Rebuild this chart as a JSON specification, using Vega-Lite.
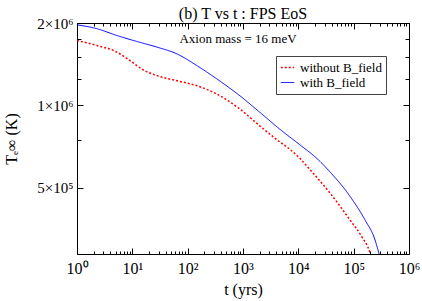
{
  "$schema": "https://vega.github.io/schema/vega-lite/v6.json",
  "width": 332,
  "height": 231,
  "autosize": "none",
  "padding": {"left": 77, "top": 23, "right": 13, "bottom": 47},
  "background": "white",
  "config": {
    "font": "Liberation Serif",
    "view": {"stroke": null},
    "axis": {"grid": false, "domainColor": "black", "tickColor": "black", "labelColor": "black", "titleColor": "black", "labelFont": "Liberation Serif", "titleFont": "Liberation Serif", "titleFontWeight": "normal", "labelFlush": false, "labelOverlap": false},
    "legend": {"orient": "none", "legendX": 199, "legendY": 33, "fillColor": "white", "strokeColor": "#444", "padding": 4, "symbolType": "stroke", "symbolSize": 180, "symbolStrokeWidth": 1.3, "labelFont": "Liberation Serif", "labelFontSize": 13, "labelColor": "black", "rowPadding": 0, "labelOffset": 5}
  },
  "title": {"text": "(b) T vs t : FPS EoS", "font": "Liberation Serif", "fontSize": 16, "fontWeight": "normal", "color": "black", "anchor": "middle", "offset": -6},
  "data": {"values": [
    {"t": 1, "T": 1970000, "series": "with B_field"},
    {"t": 2.3, "T": 1906000, "series": "with B_field"},
    {"t": 5.28, "T": 1800000, "series": "with B_field"},
    {"t": 12.1, "T": 1712000, "series": "with B_field"},
    {"t": 27.9, "T": 1633000, "series": "with B_field"},
    {"t": 64.3, "T": 1542000, "series": "with B_field"},
    {"t": 147.5, "T": 1397000, "series": "with B_field"},
    {"t": 339, "T": 1249000, "series": "with B_field"},
    {"t": 883, "T": 1084000, "series": "with B_field"},
    {"t": 2029, "T": 943000, "series": "with B_field"},
    {"t": 4667, "T": 818000, "series": "with B_field"},
    {"t": 10720, "T": 718000, "series": "with B_field"},
    {"t": 22680, "T": 635000, "series": "with B_field"},
    {"t": 37370, "T": 572000, "series": "with B_field"},
    {"t": 85900, "T": 466000, "series": "with B_field"},
    {"t": 160300, "T": 382000, "series": "with B_field"},
    {"t": 243000, "T": 323000, "series": "with B_field"},
    {"t": 291000, "T": 284000, "series": "with B_field"},
    {"t": 320000, "T": 260000, "series": "with B_field"},
    {"t": 1, "T": 1726000, "series": "without B_field"},
    {"t": 2.3, "T": 1655000, "series": "without B_field"},
    {"t": 5.28, "T": 1565000, "series": "without B_field"},
    {"t": 9.08, "T": 1458000, "series": "without B_field"},
    {"t": 16.05, "T": 1345000, "series": "without B_field"},
    {"t": 27.9, "T": 1285000, "series": "without B_field"},
    {"t": 64.3, "T": 1231000, "series": "without B_field"},
    {"t": 147.5, "T": 1180000, "series": "without B_field"},
    {"t": 339, "T": 1100000, "series": "without B_field"},
    {"t": 883, "T": 969000, "series": "without B_field"},
    {"t": 2029, "T": 841000, "series": "without B_field"},
    {"t": 4667, "T": 735000, "series": "without B_field"},
    {"t": 7080, "T": 691000, "series": "without B_field"},
    {"t": 10720, "T": 641000, "series": "without B_field"},
    {"t": 16260, "T": 583000, "series": "without B_field"},
    {"t": 37370, "T": 479000, "series": "without B_field"},
    {"t": 85900, "T": 382000, "series": "without B_field"},
    {"t": 139800, "T": 332000, "series": "without B_field"},
    {"t": 197500, "T": 289000, "series": "without B_field"},
    {"t": 225000, "T": 260000, "series": "without B_field"}
  ]},
  "layer": [
    {
      "mark": {"type": "line", "clip": true, "interpolate": "monotone"},
      "encoding": {
        "x": {"field": "t", "type": "quantitative", "scale": {"type": "log", "domain": [1, 1000000], "nice": false},
          "axis": {"orient": "bottom", "values": [1,2,3,4,5,6,7,8,9,10,20,30,40,50,60,70,80,90,100,200,300,400,500,600,700,800,900,1000,2000,3000,4000,5000,6000,7000,8000,9000,10000,20000,30000,40000,50000,60000,70000,80000,90000,100000,200000,300000,400000,500000,600000,700000,800000,900000,1000000],
            "tickSize": {"condition": {"test": "abs(log(datum.value)/LN10 - round(log(datum.value)/LN10)) < 0.0001", "value": -6}, "value": -3},
            "labelExpr": "abs(log(datum.value)/LN10 - round(log(datum.value)/LN10)) < 0.0001 ? '10' + ['⁰','¹','²','³','⁴','⁵','⁶'][round(log(datum.value)/LN10)] : ''",
            "labelFontSize": 16, "labelPadding": 12, "title": "t (yrs)", "titleFontSize": 16, "titlePadding": 2}},
        "y": {"field": "T", "type": "quantitative", "scale": {"type": "log", "domain": [287000, 2000000], "nice": false, "zero": false},
          "axis": {"orient": "left", "values": [500000, 750000, 1000000, 1250000, 1500000, 1750000, 2000000],
            "tickSize": {"condition": {"test": "datum.value==500000 || datum.value==1000000 || datum.value==2000000", "value": -6}, "value": -4},
            "labelExpr": "datum.value==2000000 ? '2×10⁶' : datum.value==1000000 ? '1×10⁶' : datum.value==500000 ? '5×10⁵' : ''",
            "labelFontSize": 15, "labelPadding": 10, "title": "Tₑ∞ (K)", "titleFontSize": 16, "titlePadding": 17}},
        "color": {"field": "series", "type": "nominal", "scale": {"domain": ["without B_field", "with B_field"], "range": ["#ff0000", "#0000ff"]}, "legend": {"title": null}},
        "strokeDash": {"field": "series", "type": "nominal", "scale": {"domain": ["without B_field", "with B_field"], "range": [[2, 2], [1, 0]]}, "legend": {"title": null}},
        "strokeWidth": {"field": "series", "type": "nominal", "scale": {"domain": ["without B_field", "with B_field"], "range": [1.5, 1]}, "legend": null}
      }
    },
    {
      "mark": {"type": "line", "clip": true, "strokeOpacity": 0},
      "encoding": {
        "x": {"field": "t", "type": "quantitative",
          "axis": {"orient": "top", "values": [1,2,3,4,5,6,7,8,9,10,20,30,40,50,60,70,80,90,100,200,300,400,500,600,700,800,900,1000,2000,3000,4000,5000,6000,7000,8000,9000,10000,20000,30000,40000,50000,60000,70000,80000,90000,100000,200000,300000,400000,500000,600000,700000,800000,900000,1000000],
            "tickSize": {"condition": {"test": "abs(log(datum.value)/LN10 - round(log(datum.value)/LN10)) < 0.0001", "value": -6}, "value": -3},
            "labels": false, "title": null}},
        "y": {"field": "T", "type": "quantitative",
          "axis": {"orient": "right", "values": [500000, 750000, 1000000, 1250000, 1500000, 1750000, 2000000],
            "tickSize": {"condition": {"test": "datum.value==500000 || datum.value==1000000 || datum.value==2000000", "value": -6}, "value": -4},
            "labels": false, "title": null}},
        "detail": {"field": "series"}
      }
    },
    {
      "data": {"values": [{"label": "Axion mass = 16 meV"}]},
      "mark": {"type": "text", "font": "Liberation Serif", "fontSize": 13, "color": "black", "align": "center", "baseline": "middle"},
      "encoding": {
        "x": {"datum": 813, "type": "quantitative", "axis": null},
        "y": {"datum": 1751000, "type": "quantitative", "axis": null},
        "text": {"field": "label"}
      }
    }
  ],
  "resolve": {"axis": {"x": "independent", "y": "independent"}}
}
